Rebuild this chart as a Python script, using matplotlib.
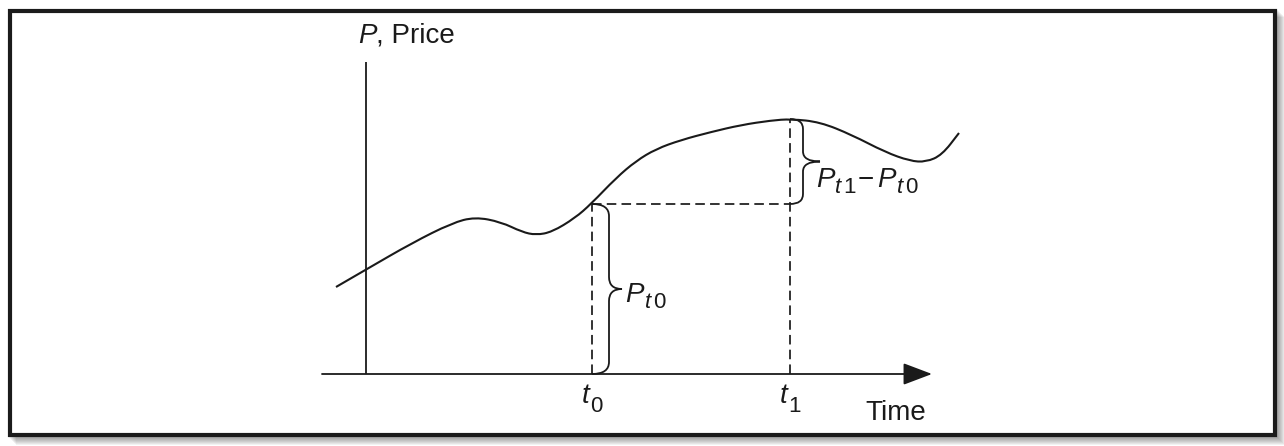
import numpy as np
import matplotlib
matplotlib.use("Agg")
import matplotlib.pyplot as plt
from matplotlib.path import Path
from matplotlib.patches import PathPatch, Rectangle

plt.rcParams['font.family'] = ['Liberation Sans', 'DejaVu Sans']
plt.rcParams['mathtext.fontset'] = 'custom'
plt.rcParams['mathtext.rm'] = 'Liberation Sans'
plt.rcParams['mathtext.it'] = 'Liberation Sans:italic'
plt.rcParams['mathtext.bf'] = 'Liberation Sans:bold'

# ---- data (time units, price units) ----
time = [-3.0, 0.1, 4.6, 8.6, 10.9, 13.5, 15.6, 17.0, 18.6, 20.9, 22.5, 25.0,
        27.0, 29.0, 31.5, 34.5, 37.5, 40.5, 42.5, 45.4, 48.6, 51.9, 54.4, 56.0, 57.6, 59.3]
price = [8.7, 10.5, 13.1, 15.1, 15.7, 15.2, 14.2, 13.9, 14.2, 15.6, 17.0, 19.6,
         21.3, 22.5, 23.4, 24.2, 24.9, 25.35, 25.5, 25.2, 23.9, 22.2, 21.3, 21.2, 21.9, 24.1]
t0, t1 = 22.6, 42.4
p_t0, p_t1 = 17.0, 25.5
x_axis_range = [-4.4, 56.6]
y_axis_range = [0.0, 31.2]
y_label = ("P", ", Price")
x_label = "Time"
t_sub = ("0", "1")
p_sub = ("$t$ 1", "$t$ 0")

W, H = 1284, 446
fig = plt.figure(figsize=(W / 100, H / 100), dpi=100)
fig.patch.set_facecolor('white')

# ---- frame with shadow (figure pixel coords) ----
def fr(x0, y0, x1, y1):
    return (x0 / W, 1 - y1 / H), (x1 - x0) / W, (y1 - y0) / H

for k in range(1, 9):
    xy, w, h = fr(8 + k, 9 + k, 1277 + k, 437 + k)
    fig.patches.append(Rectangle(xy, w, h, transform=fig.transFigure,
                                 facecolor='black', alpha=0.05, edgecolor='none', zorder=-3))
xy, w, h = fr(10, 11, 1275, 435)
fig.patches.append(Rectangle(xy, w, h, transform=fig.transFigure, facecolor='white',
                             edgecolor='#1b1b1b', linewidth=3.0, zorder=-2))

ax = fig.add_axes([0, 0, 1, 1])
ax.set_zorder(5)
ax.set_xlim(-36.6, -36.6 + W / 10)
ax.set_ylim(37.4 - H / 10, 37.4)
ax.axis('off')
ax.patch.set_alpha(0)

col = '#1a1a1a'

# ---- axes lines ----
ax.plot([0, 0], y_axis_range, color=col, lw=1.3, solid_capstyle='butt')
ax.annotate('', xy=(x_axis_range[1], 0), xytext=(x_axis_range[0], 0),
            arrowprops=dict(arrowstyle='-|>,head_length=0.9,head_width=0.34',
                            mutation_scale=20, lw=1.3, color=col,
                            shrinkA=0, shrinkB=0))

# ---- price curve (smooth path through read points) ----
pts = np.column_stack([time, price])
mids = (pts[:-1] + pts[1:]) / 2
verts = [pts[0], mids[0]]
codes = [Path.MOVETO, Path.LINETO]
for i in range(1, len(pts) - 1):
    verts += [pts[i], mids[i]]
    codes += [Path.CURVE3, Path.CURVE3]
verts.append(pts[-1])
codes.append(Path.LINETO)
ax.add_patch(PathPatch(Path(verts, codes), facecolor='none', edgecolor=col,
                       lw=1.5, capstyle='butt'))

# ---- dashed guides ----
dash = dict(color=col, lw=1.25, linestyle=(0, (5.5, 3.0)))
ax.plot([t0, t0], [0, p_t0], **dash)
ax.plot([t1, t1], [0, p_t1], **dash)
ax.plot([t0, t1], [p_t0, p_t0], **dash)

# ---- braces ----
def brace(x0, yb, yt, w, tip, r):
    ym = (yb + yt) / 2
    xv = x0 + w
    v = [(x0, yb), (xv, yb), (xv, yb + r),
         (xv, ym - r), (xv, ym), (xv + tip, ym),
         (xv, ym), (xv, ym + r),
         (xv, yt - r), (xv, yt), (x0, yt)]
    c = [Path.MOVETO, Path.CURVE3, Path.CURVE3,
         Path.LINETO, Path.CURVE3, Path.CURVE3,
         Path.CURVE3, Path.CURVE3,
         Path.LINETO, Path.CURVE3, Path.CURVE3]
    ax.add_patch(PathPatch(Path(v, c), facecolor='none', edgecolor=col, lw=1.3))

brace(t0, 0, p_t0, 1.7, 1.3, 1.2)
brace(t1, p_t0, p_t1, 1.3, 1.7, 1.0)

# ---- text ----
fs, fss = 20, 16

def txt(x, y, s, dx=0, dy=0, size=fs, style='normal'):
    ax.annotate(s, xy=(x, y), xytext=(dx, dy), textcoords='offset pixels',
                fontsize=size, fontstyle=style, ha='left', va='baseline', color=col)

# P, Price
txt(-0.8, 33.1, y_label[0], style='italic')
txt(-0.8, 33.1, y_label[1], dx=18)
# t0, t1
for tv, s in zip((t0, t1), t_sub):
    txt(tv, -2.9, "t", dx=-10, style='italic')
    txt(tv, -2.9, s, dx=-2, dy=-9, size=fss)
# Time
txt(49.9, -4.6, x_label)
# P_t0
bx, by = t0 + 3.3, 7.2
txt(bx, by, "P", style='italic')
txt(bx, by, "t", dx=20, dy=-6, size=fss, style='italic')
txt(bx, by, "0", dx=28, dy=-6, size=fss)
# P_t1 - P_t0
bx, by = t1 + 2.6, 18.7
txt(bx, by, "P", style='italic')
txt(bx, by, "t", dx=19, dy=-6, size=fss, style='italic')
txt(bx, by, "1", dx=27, dy=-6, size=fss)
txt(bx, by, "\u2212", dx=42)
txt(bx, by, "P", dx=61, style='italic')
txt(bx, by, "t", dx=81, dy=-6, size=fss, style='italic')
txt(bx, by, "0", dx=89, dy=-6, size=fss)

fig.savefig('out.png', dpi=100)
